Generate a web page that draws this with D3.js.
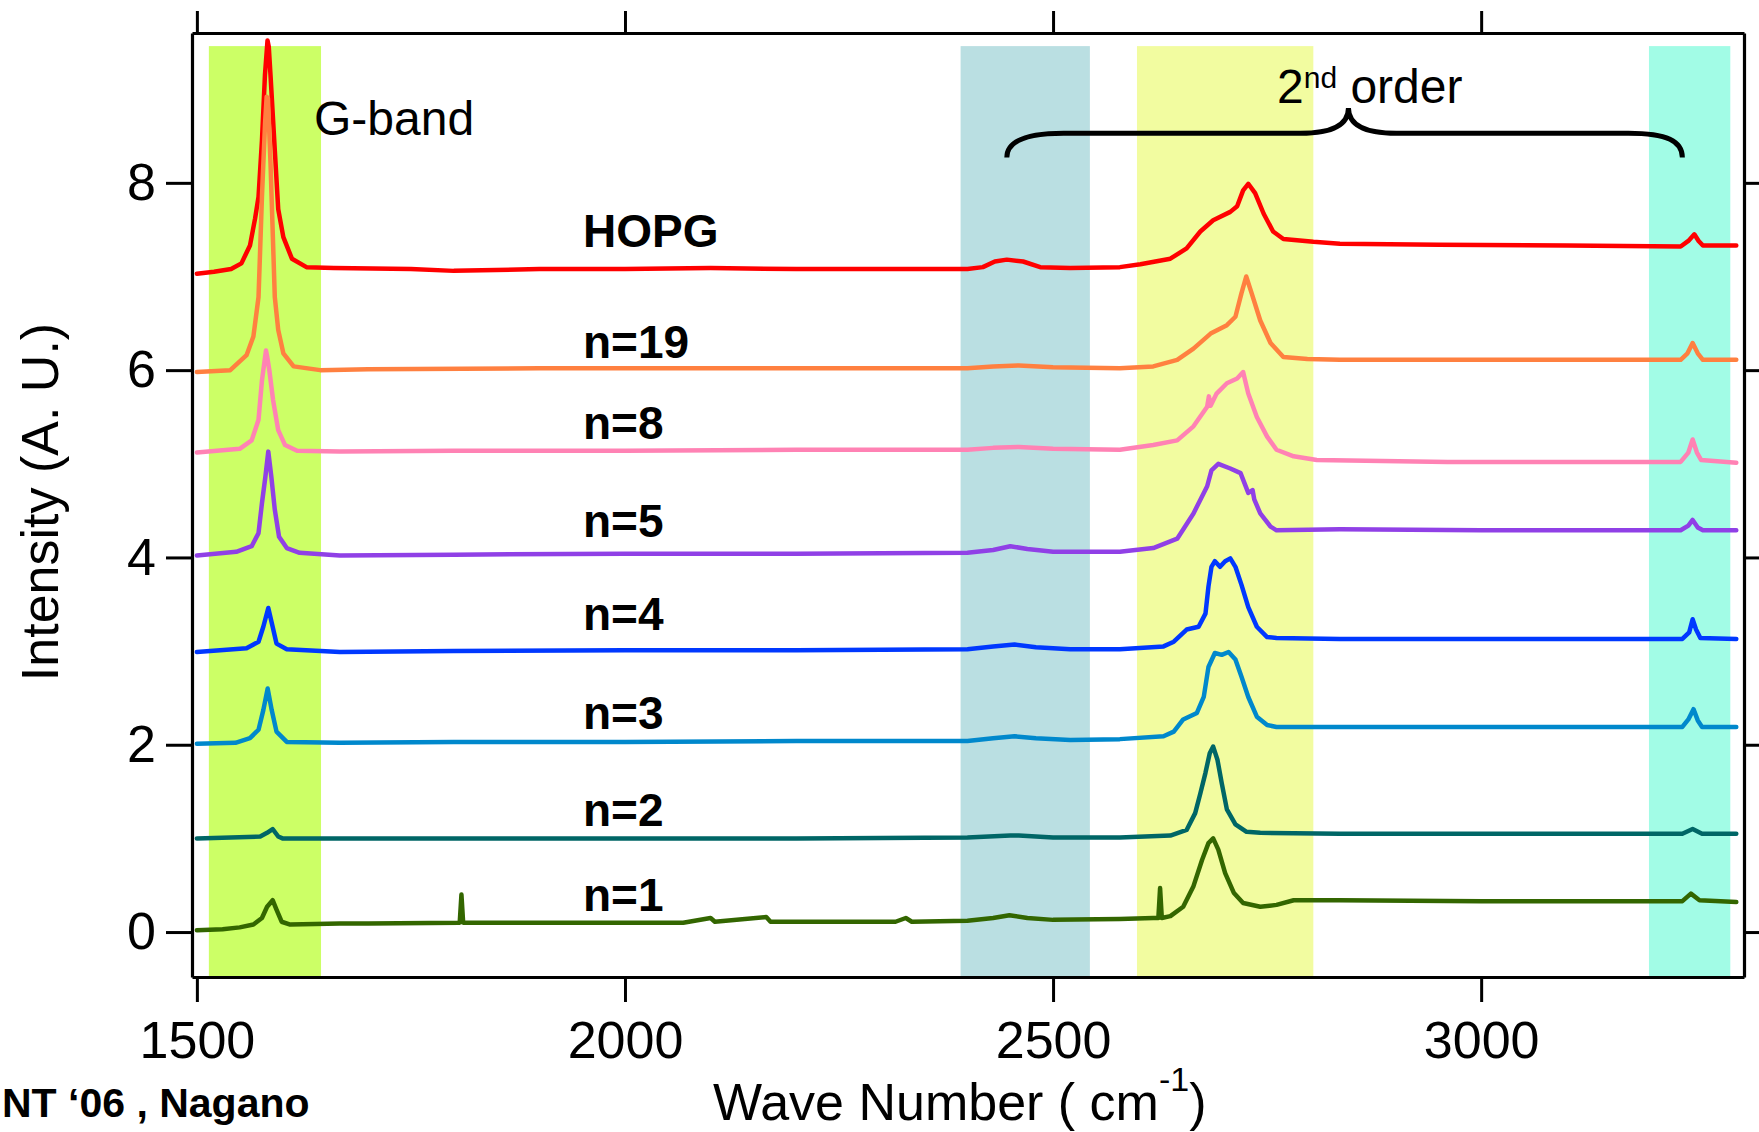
<!DOCTYPE html>
<html>
<head>
<meta charset="utf-8">
<script src="https://cdn.jsdelivr.net/npm/d3@7"></script>
<style>
  body { margin: 0; background: #fff; }
  svg { display: block; font-family: "Liberation Sans", Arial, sans-serif; }
</style>
</head>
<body>
<svg width="1759" height="1132"></svg>
<script>
// Raman spectra, offset for each sample
var seriesNames = ["HOPG", "n=19", "n=8", "n=5", "n=4", "n=3", "n=2", "n=1"];
var seriesColors = ["#ff0000", "#ff8040", "#ff82b4", "#9040e6", "#0038ff", "#0088cc", "#006666", "#336600"];
// label baseline (intensity) for each series name
var labelY = [7.31, 6.13, 5.27, 4.22, 3.22, 2.17, 1.13, 0.22];
var labelX = 1951;

var hopg = [[1500,7.03],[1520,7.05],[1540,7.08],[1552,7.14],[1562,7.33],[1568,7.62],[1572,7.85],[1576,8.45],[1579.5,9.15],[1582.5,9.52],[1584,9.45],[1586,9.15],[1591,8.35],[1595,7.72],[1601,7.42],[1611,7.19],[1628,7.10],[1660,7.09],[1750,7.08],[1800,7.06],[1900,7.08],[2000,7.08],[2100,7.09],[2200,7.08],[2300,7.08],[2400,7.08],[2418,7.10],[2432,7.16],[2446,7.18],[2465,7.16],[2485,7.10],[2520,7.09],[2578,7.10],[2602,7.13],[2637,7.19],[2656,7.30],[2672,7.48],[2687,7.60],[2707,7.69],[2715,7.75],[2722,7.92],[2728,7.99],[2736,7.89],[2746,7.67],[2757,7.48],[2769,7.40],[2804,7.37],[2835,7.35],[2950,7.34],[3100,7.33],[3233,7.32],[3242,7.38],[3249,7.45],[3254,7.38],[3259,7.33],[3298,7.33]];
var n19 = [[1500,5.98],[1539,6.00],[1558,6.16],[1566,6.36],[1572,6.78],[1576,7.85],[1579.6,8.63],[1581.5,8.92],[1583,8.90],[1586,8.21],[1591,6.78],[1595,6.43],[1601,6.18],[1613,6.04],[1644,6.00],[1700,6.01],[1900,6.02],[2100,6.02],[2300,6.02],[2400,6.02],[2430,6.04],[2460,6.05],[2500,6.03],[2578,6.02],[2617,6.04],[2645,6.11],[2664,6.23],[2684,6.39],[2703,6.48],[2713,6.57],[2720,6.82],[2725.6,7.00],[2732,6.82],[2742,6.53],[2754,6.29],[2769,6.14],[2797,6.12],[2835,6.11],[3000,6.11],[3233,6.11],[3241,6.18],[3247,6.29],[3253,6.18],[3259,6.11],[3298,6.11]];
var n8 = [[1500,5.12],[1550,5.16],[1564,5.25],[1572,5.47],[1576,5.89],[1580.7,6.21],[1582,6.15],[1584.6,6.00],[1589,5.68],[1595,5.36],[1603,5.20],[1617,5.14],[1667,5.13],[1800,5.14],[2000,5.14],[2200,5.15],[2400,5.15],[2430,5.17],[2460,5.18],[2500,5.16],[2578,5.15],[2617,5.20],[2645,5.25],[2664,5.40],[2680,5.61],[2682,5.72],[2684,5.62],[2691,5.75],[2703,5.86],[2715,5.91],[2722,5.98],[2728,5.75],[2738,5.50],[2750,5.29],[2761,5.15],[2781,5.08],[2808,5.04],[2961,5.02],[3233,5.02],[3242,5.12],[3247,5.26],[3252,5.12],[3257,5.04],[3298,5.01]];
var n5 = [[1500,4.02],[1546,4.06],[1564,4.12],[1572,4.26],[1576,4.58],[1580,4.86],[1583.4,5.13],[1587,4.86],[1591,4.51],[1596,4.22],[1605,4.10],[1620,4.05],[1667,4.02],[1800,4.03],[2000,4.04],[2200,4.04],[2400,4.05],[2430,4.08],[2450,4.12],[2470,4.09],[2500,4.06],[2578,4.06],[2617,4.10],[2645,4.20],[2664,4.47],[2680,4.76],[2685,4.93],[2693,5.00],[2707,4.95],[2719,4.90],[2728,4.69],[2733,4.72],[2735,4.62],[2742,4.47],[2754,4.33],[2761,4.29],[2835,4.30],[3000,4.29],[3233,4.29],[3242,4.34],[3247,4.40],[3253,4.32],[3259,4.29],[3298,4.29]];
var n4 = [[1500,2.99],[1558,3.03],[1572,3.10],[1577.6,3.26],[1583.4,3.46],[1588.5,3.26],[1593,3.08],[1605,3.02],[1667,2.99],[1800,3.00],[2000,3.01],[2200,3.01],[2400,3.02],[2430,3.05],[2455,3.07],[2480,3.04],[2520,3.02],[2578,3.02],[2629,3.05],[2641,3.10],[2656,3.23],[2670,3.26],[2678,3.40],[2681.5,3.69],[2685,3.90],[2689,3.96],[2695,3.90],[2701,3.96],[2707,3.99],[2713,3.90],[2720,3.71],[2728,3.47],[2738,3.26],[2750,3.15],[2761,3.14],[2835,3.13],[3000,3.13],[3235,3.13],[3243,3.20],[3247,3.34],[3251,3.23],[3256,3.14],[3298,3.13]];
var n3 = [[1500,2.01],[1545,2.02],[1562,2.07],[1572,2.16],[1577.6,2.37],[1582.7,2.60],[1587.4,2.37],[1593,2.14],[1605,2.03],[1667,2.02],[1800,2.03],[2000,2.03],[2200,2.04],[2400,2.04],[2430,2.07],[2455,2.09],[2480,2.07],[2520,2.05],[2578,2.06],[2629,2.09],[2641,2.14],[2652,2.27],[2668,2.34],[2676,2.51],[2681.5,2.83],[2689,2.98],[2697,2.96],[2705,2.99],[2713,2.91],[2720,2.73],[2728,2.51],[2738,2.30],[2750,2.21],[2761,2.19],[2835,2.19],[3000,2.19],[3235,2.19],[3242,2.27],[3248,2.38],[3253,2.26],[3258,2.19],[3298,2.19]];
var n2 = [[1500,1.00],[1574,1.02],[1582,1.06],[1588.5,1.10],[1595,1.02],[1600,1.00],[1800,1.00],[2000,1.00],[2200,1.00],[2400,1.01],[2450,1.03],[2460,1.03],[2500,1.01],[2578,1.01],[2637,1.03],[2656,1.09],[2666,1.27],[2672,1.48],[2678,1.70],[2683,1.91],[2687,1.98],[2692,1.84],[2697,1.59],[2703,1.31],[2713,1.15],[2726,1.07],[2742,1.06],[2835,1.05],[3000,1.05],[3235,1.05],[3247,1.10],[3258,1.05],[3298,1.05]];
var n1 = [[1500,0.02],[1530,0.03],[1550,0.05],[1566,0.08],[1576,0.15],[1582,0.27],[1588.5,0.34],[1593,0.24],[1599,0.11],[1609,0.08],[1667,0.09],[1700,0.09],[1807,0.10],[1809,0.40],[1811,0.10],[1900,0.10],[2068,0.10],[2100,0.15],[2105,0.11],[2165,0.16],[2170,0.11],[2316,0.11],[2328,0.15],[2335,0.11],[2400,0.12],[2430,0.15],[2449,0.18],[2470,0.15],[2500,0.13],[2578,0.14],[2617,0.15],[2623,0.15],[2625,0.47],[2627,0.15],[2637,0.17],[2652,0.27],[2664,0.49],[2674,0.77],[2681.5,0.95],[2687,1.00],[2693,0.88],[2701,0.63],[2711,0.42],[2722,0.31],[2742,0.27],[2761,0.29],[2781,0.34],[2835,0.34],[3000,0.33],[3235,0.33],[3245,0.41],[3255,0.34],[3298,0.32]];
var spectra = [hopg, n19, n8, n5, n4, n3, n2, n1];

// shaded bands (wave number ranges)
var bandStart = [1514, 2392, 2598, 3196];
var bandEnd = [1645, 2543, 2804, 3291];
var bandColors = ["#ccff66", "#badfe2", "#f2fca0", "#a2fce6"];
var bandTop = 9.46;

var xTicks = [1500, 2000, 2500, 3000];
var yTicks = [0, 2, 4, 6, 8];

var svg = d3.select("svg");

var x = d3.scaleLinear().domain([1494.3, 3307]).range([192, 1744]);
var y = d3.scaleLinear().domain([-0.48, 9.6]).range([977, 33]);

// bands
svg.append("g")
  .selectAll("rect")
  .data(bandStart)
  .enter()
  .append("rect")
    .attr("x", function(d) { return x(d); })
    .attr("width", function(d, i) { return x(bandEnd[i]) - x(d); })
    .attr("y", y(bandTop))
    .attr("height", y.range()[0] - y(bandTop))
    .attr("fill", function(d, i) { return bandColors[i]; });

// axes (box frame with outward ticks)
function styleAxis(g) {
  g.select(".domain").attr("stroke-width", 3.2);
  g.selectAll(".tick line").attr("stroke-width", 3);
  g.selectAll(".tick text").attr("font-size", 52).attr("fill", "#000")
    .attr("font-family", "Liberation Sans, Arial, sans-serif");
}

svg.append("g")
  .attr("transform", "translate(0," + y.range()[0] + ")")
  .call(d3.axisBottom(x).tickValues(xTicks).tickFormat(d3.format("d"))
    .tickSize(25).tickSizeOuter(0).tickPadding(19))
  .call(styleAxis);

svg.append("g")
  .attr("transform", "translate(0," + y.range()[1] + ")")
  .call(d3.axisTop(x).tickValues(xTicks).tickSize(22).tickSizeOuter(0).tickFormat(""))
  .call(styleAxis);

svg.append("g")
  .attr("transform", "translate(" + x.range()[0] + ",0)")
  .call(d3.axisLeft(y).tickValues(yTicks).tickFormat(d3.format("d"))
    .tickSize(26).tickSizeOuter(0).tickPadding(10))
  .call(styleAxis);

svg.append("g")
  .attr("transform", "translate(" + x.range()[1] + ",0)")
  .call(d3.axisRight(y).tickValues(yTicks).tickSize(26).tickSizeOuter(0).tickFormat(""))
  .call(styleAxis);

// spectra
var line = d3.line()
  .x(function(d) { return x(d[0]); })
  .y(function(d) { return y(d[1]); });

svg.append("g")
  .selectAll("path")
  .data(spectra)
  .enter()
  .append("path")
    .attr("d", line)
    .attr("fill", "none")
    .attr("stroke", function(d, i) { return seriesColors[i]; })
    .attr("stroke-width", 4.5)
    .attr("stroke-linejoin", "round")
    .attr("stroke-linecap", "round");

// series names
svg.append("g")
  .selectAll("text")
  .data(seriesNames)
  .enter()
  .append("text")
    .attr("x", x(labelX))
    .attr("y", function(d, i) { return y(labelY[i]); })
    .attr("font-size", 46)
    .attr("font-weight", "bold")
    .text(function(d) { return d; });

// annotations
svg.append("text")
  .attr("x", 314)
  .attr("y", 135)
  .attr("font-size", 48)
  .text("G-band");

var order = svg.append("text")
  .attr("x", 1277)
  .attr("y", 103)
  .attr("font-size", 48);
order.append("tspan").text("2");
order.append("tspan").attr("font-size", 30).attr("dy", -15).text("nd");
order.append("tspan").attr("dy", 15).text(" order");

// curly brace over the 2nd order region
var bL = x(2446), bC = x(2845), bR = x(3235);
var bEnd = y(8.27), bMid = y(8.53), bTip = y(8.8);
svg.append("path")
  .attr("d", "M" + bL + "," + bEnd +
    " C" + bL + "," + (bMid + 8) + " " + (bL + 18) + "," + bMid + " " + (bL + 57) + "," + bMid +
    " L" + (bC - 48) + "," + bMid +
    " C" + (bC - 18) + "," + bMid + " " + bC + "," + (bMid - 8) + " " + bC + "," + bTip +
    " C" + bC + "," + (bMid - 8) + " " + (bC + 18) + "," + bMid + " " + (bC + 48) + "," + bMid +
    " L" + (bR - 54) + "," + bMid +
    " C" + (bR - 15) + "," + bMid + " " + bR + "," + (bMid + 8) + " " + bR + "," + bEnd)
  .attr("fill", "none")
  .attr("stroke", "#000")
  .attr("stroke-width", 5);

// axis titles
svg.append("text")
  .attr("transform", "translate(58,502) rotate(-90)")
  .attr("text-anchor", "middle")
  .attr("font-size", 52)
  .text("Intensity (A. U.)");

var xt = svg.append("text")
  .attr("x", 713)
  .attr("y", 1120)
  .attr("font-size", 52);
xt.append("tspan").text("Wave Number ( cm");
xt.append("tspan").attr("font-size", 34).attr("dy", -29).text("-1");
xt.append("tspan").attr("dy", 29).text(")");

// footer note at the bottom-left corner
svg.append("text")
  .attr("x", 2)
  .attr("y", 1117)
  .attr("font-size", 41)
  .attr("font-weight", "bold")
  .text("NT \u201806 , Nagano");
</script>
</body>
</html>
